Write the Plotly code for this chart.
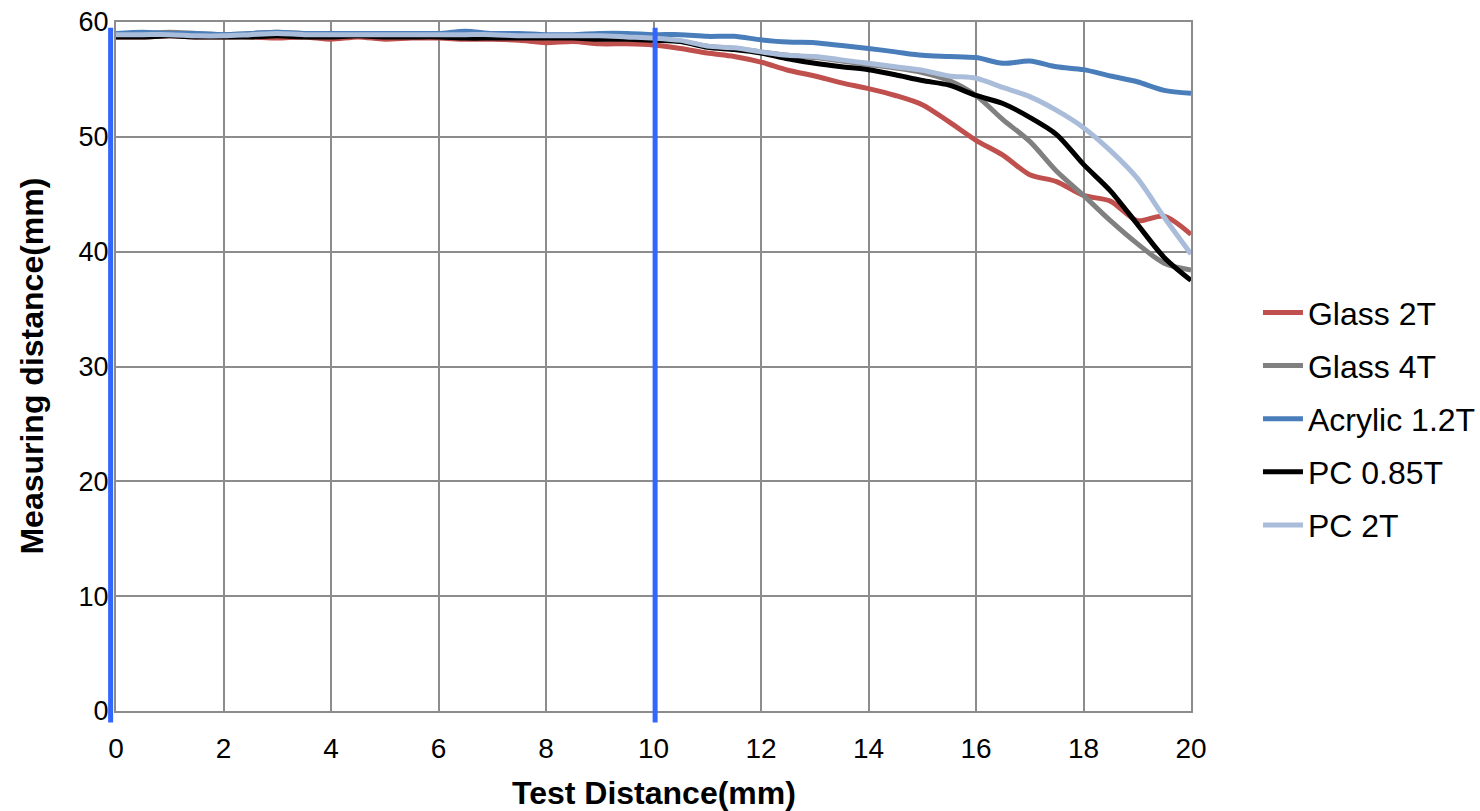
import plotly.graph_objects as go

# ---------------- data ----------------
test_distance = [i * 0.5 for i in range(41)]  # 0 .. 20 mm

glass_2t = [58.7, 58.7, 58.8, 58.7, 58.7, 58.7, 58.6, 58.7, 58.5, 58.7,
            58.5, 58.6, 58.6, 58.5, 58.5, 58.4, 58.2, 58.3, 58.1, 58.1,
            58.0, 57.7, 57.3, 57.0, 56.5, 55.8, 55.3, 54.7, 54.2, 53.6,
            52.8, 51.3, 49.7, 48.4, 46.7, 46.1, 44.9, 44.4, 42.7, 43.1, 41.5]

glass_4t = [58.9, 59.0, 59.1, 59.0, 58.9, 59.0, 59.1, 59.0, 58.9, 59.0,
            58.9, 58.9, 58.9, 58.9, 58.9, 58.9, 58.8, 58.8, 58.8, 58.8,
            58.6, 58.3, 57.9, 57.7, 57.4, 57.1, 56.9, 56.6, 56.3, 56.0,
            55.6, 54.9, 53.6, 51.5, 49.6, 47.0, 44.9, 42.7, 40.7, 39.0, 38.4]

acrylic_12t = [59.0, 59.1, 59.0, 59.0, 58.9, 59.0, 59.1, 59.0, 59.0, 59.0,
               59.0, 59.0, 59.0, 59.2, 59.0, 59.0, 58.9, 58.9, 59.0, 59.0,
               58.9, 58.9, 58.75, 58.75, 58.45, 58.25, 58.2, 57.95, 57.7, 57.4,
               57.1, 57.0, 56.9, 56.4, 56.6, 56.1, 55.85, 55.3, 54.8, 54.05, 53.8]

pc_085t = [58.7, 58.7, 58.8, 58.7, 58.7, 58.7, 58.8, 58.7, 58.7, 58.8,
           58.7, 58.7, 58.7, 58.6, 58.6, 58.6, 58.6, 58.6, 58.5, 58.5,
           58.4, 58.3, 57.8, 57.6, 57.3, 56.8, 56.4, 56.1, 55.85, 55.4,
           54.9, 54.5, 53.6, 52.9, 51.7, 50.2, 47.6, 45.3, 42.4, 39.5, 37.5]

pc_2t = [58.9, 58.9, 58.9, 58.8, 58.8, 58.9, 59.0, 58.9, 58.9, 58.9,
         58.9, 58.9, 58.9, 58.9, 58.9, 58.8, 58.8, 58.8, 58.8, 58.7,
         58.6, 58.4, 57.9, 57.75, 57.4, 57.1, 57.0, 56.7, 56.4, 56.1,
         55.8, 55.3, 55.1, 54.3, 53.5, 52.3, 50.8, 48.8, 46.4, 43.0, 39.8]

series_names = ["Glass 2T", "Glass 4T", "Acrylic 1.2T", "PC 0.85T", "PC 2T"]
series_values = [glass_2t, glass_4t, acrylic_12t, pc_085t, pc_2t]
series_colors = ["#C0504D", "#808080", "#4A7EBB", "#000000", "#A9BCDA"]

x_ticks = list(range(0, 21, 2))
y_ticks = list(range(0, 61, 10))
x_range = [0, 20]
y_range = [0, 60]

x_title = "Test Distance(mm)"
y_title = "Measuring distance(mm)"

# vertical blue marker lines (data x), and their vertical extent (data y)
marker_x = [-0.1, 10.03]
marker_y_span = [-1.0, 59.5]

FONT = "Arial, Liberation Sans, sans-serif"

fig = go.Figure()
for i, (name, vals, col) in enumerate(zip(series_names, series_values, series_colors)):
    fig.add_trace(go.Scatter(
        x=test_distance, y=vals, name=name, mode="lines",
        line=dict(color=col, width=5, shape="spline", smoothing=0.8),
        legendgroup=f"g{i}",
    ))

def xdom(v):
    return (v - x_range[0]) / (x_range[1] - x_range[0])

def ydom(v):
    return (v - y_range[0]) / (y_range[1] - y_range[0])

for mx in marker_x:
    fig.add_shape(type="line", xref="x domain", yref="y domain",
                  x0=xdom(mx), x1=xdom(mx),
                  y0=ydom(marker_y_span[0]), y1=ydom(marker_y_span[1]),
                  line=dict(color="#3366FF", width=5), layer="above")

fig.add_annotation(text=f"<b>{x_title}</b>", xref="paper", yref="paper",
                   x=0.5, y=-0.119, xanchor="center", yanchor="middle",
                   showarrow=False, font=dict(size=32, family=FONT, color="black"))
fig.add_annotation(text=f"<b>{y_title}</b>", xref="paper", yref="paper",
                   x=-0.079, y=0.5, xanchor="center", yanchor="middle", textangle=-90,
                   showarrow=False, font=dict(size=32, family=FONT, color="black"))

grid_col = "#8C8C8C"
fig.update_layout(
    width=1480, height=811,
    margin=dict(l=116, r=289, t=22, b=100, autoexpand=False),
    paper_bgcolor="white", plot_bgcolor="white",
    font=dict(family=FONT, size=28, color="black"),
    showlegend=True,
    legend=dict(x=1.0623, xanchor="left", y=0.618, yanchor="top",
                xref="paper", font=dict(size=32, family=FONT),
                tracegroupgap=8.5, itemwidth=40,
                bgcolor="rgba(0,0,0,0)"),
    xaxis=dict(range=x_range, tickvals=x_ticks, showgrid=True,
               gridcolor=grid_col, gridwidth=2, showline=True, linecolor=grid_col,
               linewidth=2, mirror=True, zeroline=False, ticks="",
               ticklabelstandoff=11,
               tickfont=dict(size=28, family=FONT)),
    yaxis=dict(range=y_range, tickvals=y_ticks, showgrid=True,
               gridcolor=grid_col, gridwidth=2, showline=True, linecolor=grid_col,
               linewidth=2, mirror=True, zeroline=False, ticks="",
               ticklabelstandoff=0,
               tickfont=dict(size=27, family=FONT)),
)

fig.write_html("out.html", config={"displayModeBar": False},
               post_script="document.body.style.margin='0';")
